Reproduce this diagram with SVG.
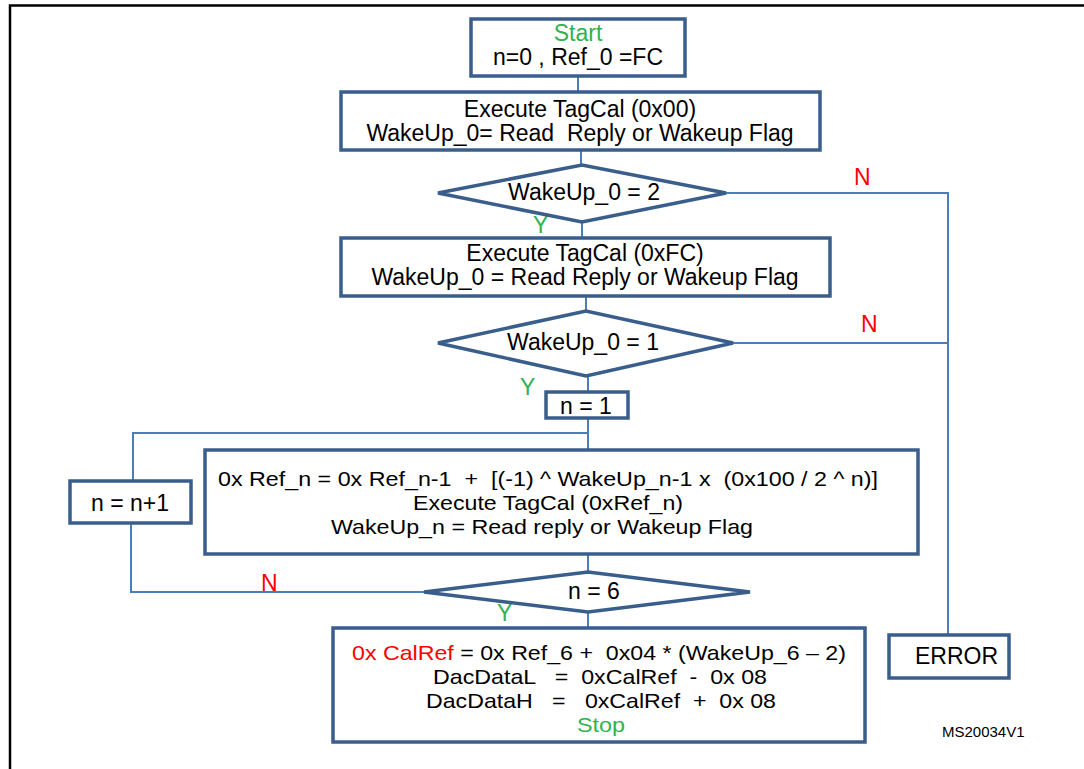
<svg xmlns="http://www.w3.org/2000/svg" width="1084" height="769" viewBox="0 0 1084 769">
  <style>
    .box { fill: #ffffff; stroke: #3A5E8C; stroke-width: 3.5; }
    .wire { fill: none; stroke: #4A7EBB; stroke-width: 2; }
    .frame { fill: none; stroke: #000000; stroke-width: 2.5; }
    text { font-family: "Liberation Sans", Arial, sans-serif; font-size: 23px; fill: #000000; }
    .mid { text-anchor: middle; }
    .tight { font-size: 21px; }
    .green { fill: #2EB34F; }
    .red { fill: #FF0000; }
    .ref { font-size: 15px; }
  </style>

  <!-- page frame -->
  <path class="frame" d="M10,769 V5.5 H1084"/>

  <!-- connectors -->
  <g id="connectors">
    <path class="wire" d="M578,76 V92"/>
    <path class="wire" d="M581,150 V165"/>
    <path class="wire" d="M726,193 H948 V635"/>
    <path class="wire" d="M582,222 V238"/>
    <path class="wire" d="M586,296 V311"/>
    <path class="wire" d="M733,343 H948"/>
    <path class="wire" d="M588,376 V392"/>
    <path class="wire" d="M588,418 V450"/>
    <path class="wire" d="M588,433 H133 V481"/>
    <path class="wire" d="M131,523 V592 H424"/>
    <path class="wire" d="M588,554 V572"/>
    <path class="wire" d="M588,612 V628"/>
    <text class="red" x="854" y="185">N</text>
    <text class="green" x="533" y="233">Y</text>
    <text class="red" x="861" y="332">N</text>
    <text class="green" x="520" y="395">Y</text>
    <text class="red" x="261" y="591">N</text>
    <text class="green" x="497" y="621">Y</text>
  </g>

  <g id="start">
    <rect class="box" x="471" y="19" width="214" height="57"/>
    <text class="mid green" x="578" y="41">Start</text>
    <text class="mid" x="578" y="65">n=0 , Ref_0 =FC</text>
  </g>

  <g id="tagcal-00">
    <rect class="box" x="341" y="92" width="479" height="58"/>
    <text class="mid" x="580" y="117">Execute TagCal (0x00)</text>
    <text class="mid" x="580" y="141" xml:space="preserve">WakeUp_0= Read  Reply or Wakeup Flag</text>
  </g>

  <g id="check-2">
    <polygon class="box" points="438,193 582,165 726,193 582,222"/>
    <text class="mid" x="584" y="200">WakeUp_0 = 2</text>
  </g>

  <g id="tagcal-fc">
    <rect class="box" x="341" y="238" width="489" height="58"/>
    <text class="mid" x="585" y="261">Execute TagCal (0xFC)</text>
    <text class="mid" x="585" y="285">WakeUp_0 = Read Reply or Wakeup Flag</text>
  </g>

  <g id="check-1">
    <polygon class="box" points="438,343 586,311 733,343 586,376"/>
    <text class="mid" x="583" y="350">WakeUp_0 = 1</text>
  </g>

  <g id="init-n">
    <rect class="box" x="546" y="392" width="82" height="26"/>
    <text class="mid" x="586" y="414">n = 1</text>
  </g>

  <g id="increment-n">
    <rect class="box" x="70" y="481" width="121" height="42"/>
    <text class="mid" x="130" y="511">n = n+1</text>
  </g>

  <g id="step">
    <rect class="box" x="205" y="450" width="713" height="104"/>
    <text class="mid tight" x="548" y="486" textLength="660" lengthAdjust="spacingAndGlyphs" xml:space="preserve">0x Ref_n = 0x Ref_n-1  +  [(-1) ^ WakeUp_n-1 x  (0x100 / 2 ^ n)]</text>
    <text class="mid tight" x="548" y="510" textLength="270" lengthAdjust="spacingAndGlyphs">Execute TagCal (0xRef_n)</text>
    <text class="mid tight" x="542" y="534" textLength="422" lengthAdjust="spacingAndGlyphs">WakeUp_n = Read reply or Wakeup Flag</text>
  </g>

  <g id="check-6">
    <polygon class="box" points="424,592 588,572 750,592 588,612"/>
    <text class="mid" x="594" y="599">n = 6</text>
  </g>

  <g id="result">
    <rect class="box" x="333" y="628" width="532" height="114"/>
    <text class="mid tight" x="599" y="660" textLength="494" lengthAdjust="spacingAndGlyphs" xml:space="preserve"><tspan class="red">0x CalRef</tspan> = 0x Ref_6 +  0x04 * (WakeUp_6 – 2)</text>
    <text class="mid tight" x="600" y="684" textLength="334" lengthAdjust="spacingAndGlyphs" xml:space="preserve">DacDataL   =  0xCalRef  -  0x 08</text>
    <text class="mid tight" x="601" y="708" textLength="350" lengthAdjust="spacingAndGlyphs" xml:space="preserve">DacDataH   =   0xCalRef  +  0x 08</text>
    <text class="mid tight green" x="601" y="732" textLength="48" lengthAdjust="spacingAndGlyphs">Stop</text>
  </g>

  <g id="error">
    <rect class="box" x="889" y="635" width="120" height="43"/>
    <text x="915" y="664">ERROR</text>
  </g>

  <text class="ref" x="942" y="737">MS20034V1</text>
</svg>
